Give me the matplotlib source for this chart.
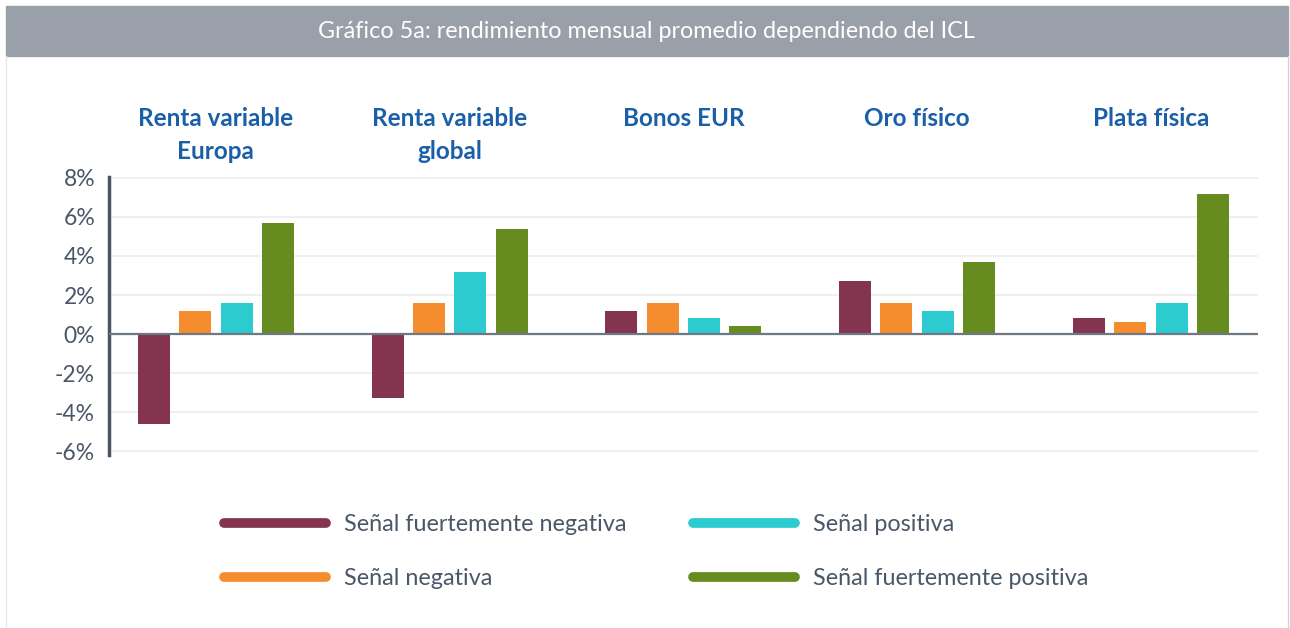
import matplotlib.pyplot as plt
from matplotlib.lines import Line2D
from matplotlib.patches import Rectangle
import numpy as np

plt.rcParams['font.family'] = ['Lato', 'DejaVu Sans']

# Datos
categorias = ['Renta variable\nEuropa', 'Renta variable\nglobal', 'Bonos EUR', 'Oro físico', 'Plata física']
series = ['Señal fuertemente negativa', 'Señal negativa', 'Señal positiva', 'Señal fuertemente positiva']
fuert_neg = [-4.6, -3.3, 1.2, 2.7, 0.8]
negativa = [1.2, 1.6, 1.6, 1.6, 0.6]
positiva = [1.6, 3.2, 0.8, 1.2, 1.6]
fuert_pos = [5.7, 5.4, 0.4, 3.7, 7.2]
yticks = [-6, -4, -2, 0, 2, 4, 6, 8]

colores = ['#84344f', '#f58d2f', '#2ccbd0', '#668b1e']
valores = [fuert_neg, negativa, positiva, fuert_pos]

fig = plt.figure(figsize=(12.9, 6.28), dpi=100)
ax = fig.add_axes([0.0845, 0.2755, 0.8905, 0.4427])

x = np.arange(len(categorias))
ancho = 0.137
paso = 0.177
for i, (vals, col) in enumerate(zip(valores, colores)):
    ax.bar(x + (i - 1.5) * paso, vals, width=ancho, color=col, zorder=3, label=series[i])

ax.set_xlim(-0.457, 4.457)
ax.set_ylim(-6.2, 8.05)
ax.set_yticks(yticks)
ax.set_yticklabels([f'{t}%' for t in yticks], fontsize=16.5, color='#4a5766')
ax.tick_params(axis='y', length=0, pad=10)
ax.set_xticks([])
ax.grid(axis='y', color='#ececec', lw=1.2, zorder=0)
ax.axhline(0, color='#6e7883', lw=1.6, zorder=4)
for s in ['top', 'right', 'bottom']:
    ax.spines[s].set_visible(False)
ax.spines['left'].set_color('#4a5560')
ax.spines['left'].set_linewidth(2.5)

for xi, cat in zip(x, categorias):
    ax.text(xi, 1.25, cat, transform=ax.get_xaxis_transform(), ha='center', va='top',
            fontsize=17.5, fontweight='bold', color='#1a5fa8', linespacing=1.52)

# Banda del título
fig.patches.append(Rectangle((6 / 1290, 572 / 628), 1282 / 1290, 50 / 628,
                             transform=fig.transFigure, color='#9aa0aa', zorder=0))
fig.text(0.5015, 596 / 628, 'Gráfico 5a: rendimiento mensual promedio dependiendo del ICL',
         ha='center', va='center', fontsize=16.8, color='white')
fig.add_artist(Line2D([1288 / 1290, 1288 / 1290], [0, 572 / 628], transform=fig.transFigure,
                      color='#d0d3d8', lw=1))
fig.add_artist(Line2D([6 / 1290, 6 / 1290], [0, 572 / 628], transform=fig.transFigure,
                      color='#e6e8eb', lw=1))

handles = [Line2D([0], [0], color=c, lw=7, solid_capstyle='round') for c in colores]
fig.legend(handles, series, loc='center', bbox_to_anchor=(0.5085, 0.122), ncol=2,
           frameon=False, fontsize=16.8, labelcolor='#4a5766', handlelength=4.4,
           handletextpad=0.75, columnspacing=2.85, labelspacing=1.4)

fig.savefig('out.png', dpi=100)
